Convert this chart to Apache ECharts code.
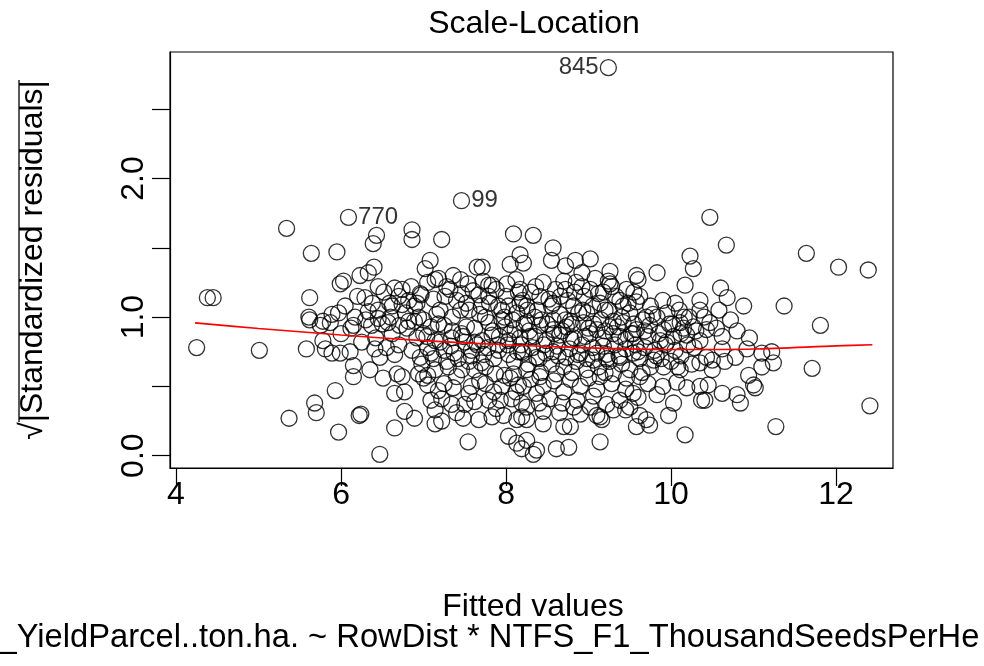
<!DOCTYPE html>
<html>
<head>
<meta charset="utf-8">
<script src="https://cdn.jsdelivr.net/npm/echarts@6/dist/echarts.min.js"></script>
<style>html,body{margin:0;padding:0;background:#fff}#c{width:984px;height:666px}</style>
</head>
<body>
<div id="c"></div>
<script>
// Fitted values (x) and sqrt(|standardized residuals|) (y)
const fittedValues = [
4.25,4.38,4.45,5.01,5.34,5.37,5.58,5.62,5.64,5.61,5.68,5.70,5.78,5.78,5.81,5.89,5.89,5.93,5.97,5.95,5.99,5.75,5.87,5.62,
6.43,6.39,6.86,6.86,7.22,7.08,7.02,7.18,7.36,7.65,7.71,8.09,8.05,8.01,8.17,6.40,6.33,6.23,6.03,6.65,6.29,6.96,7.79,
8.33,8.57,8.55,9.02,8.84,8.72,9.26,9.58,9.60,9.83,10.23,10.27,10.17,10.47,10.35,8.92,8.70,9.24,9.46,10.67,11.64,12.03,12.39,
10.60,10.68,10.88,11.37,11.81,10.47,10.62,10.92,10.78,10.62,10.50,10.65,10.50,11.10,11.22,11.24,11.10,10.94,11.00,11.02,
10.62,10.80,10.84,10.45,10.41,11.71,11.27,12.41,6.47,
6.15,6.37,6.57,6.71,6.89,7.09,7.25,7.46,7.62,7.79,7.99,8.11,7.04,7.14,7.34,7.48,7.71,7.83,8.03,8.17,
5.99,6.11,6.41,6.47,6.65,6.86,6.96,7.09,7.25,7.37,7.58,7.73,7.91,8.03,8.19,
6.15,6.35,6.51,6.68,6.74,6.94,7.00,7.14,7.30,7.46,7.62,7.75,7.87,8.09,6.15,
6.65,6.77,7.05,7.18,7.36,7.58,7.75,7.95,8.05,8.15,
6.22,6.24,6.77,6.89,7.09,7.14,7.22,7.34,7.50,7.62,7.79,7.93,8.07,8.19,
6.65,7.14,7.22,7.48,7.67,7.83,7.97,8.13,8.19,7.54,8.03,8.13,8.19,
8.25,8.41,8.57,8.73,8.94,9.10,9.26,9.42,9.58,9.74,9.91,10.11,10.27,10.43,
8.29,8.49,8.65,8.82,9.02,9.18,9.38,9.54,9.87,10.03,10.19,10.35,
8.21,8.37,8.57,8.73,8.90,9.06,9.22,9.38,9.54,9.79,9.91,10.11,10.35,10.43,
8.25,8.41,8.61,8.78,8.98,9.14,9.30,9.46,9.62,9.83,10.07,10.19,10.35,10.37,
8.21,8.37,8.53,8.70,8.86,9.06,9.22,9.38,9.54,10.03,9.97,
8.25,8.45,8.65,8.82,9.02,9.14,9.30,9.50,9.62,9.58,9.74,9.70,
8.25,8.45,8.70,8.78,9.10,9.16,8.25,8.37,8.61,8.76,9.14,10.17,8.33,
6.17,6.33,6.59,6.74,6.82,6.89,6.97,7.16,7.26,7.32,7.46,7.54,7.52,7.67,7.79,7.91,8.03,8.13,8.17,5.97,6.45,6.94,7.75,7.95,
6.74,7.14,7.83,
8.17,8.25,8.41,8.35,8.57,8.72,8.82,8.92,8.98,9.12,9.26,9.20,9.38,9.50,9.58,9.70,9.83,9.95,10.10,10.16,10.35,8.57,8.78,9.30,8.21,
6.45,6.52,6.60,6.70,6.78,6.85,6.92,7.00,7.05,7.12,7.20,7.28,7.35,7.40,7.45,7.55,7.60,7.68,7.72,7.80,
7.88,7.95,8.00,8.08,8.12,8.20,8.28,8.30,8.38,8.45,8.50,8.52,8.60,8.65,8.68,8.75,8.80,8.85,8.88,8.95,9.00,9.05,9.08,9.15,9.18,9.25,9.30,9.33,9.40,9.45,9.48,9.55,
8.02,8.10,8.18,8.27,8.32,8.40,8.46,8.55,8.62,8.70,8.77,8.85,8.92,8.98,9.05,9.12,9.18,9.25,9.32,9.40,9.45,9.50,9.57,9.62,9.68,9.75,9.80,9.88,9.93,10.00,10.05,10.12,10.20,10.25,
6.92,6.98,7.05,7.12,7.20,7.28,7.33,7.42,7.50,7.55,7.65,7.70,7.78,7.85,7.92,
7.05,7.25,7.40,7.55,7.68,7.85,7.98,8.12,8.30,8.45,8.58,8.68,8.90,9.00,9.10,9.28,9.45,9.60,9.72,9.90,8.40,8.90,9.45,7.88,7.40,
6.05,6.12,6.20,6.25,6.30,6.38,6.42,6.50,6.55,6.62,6.70,6.80,6.45,6.00,
9.62,9.68,9.75,9.85,9.90,9.98,10.05,10.12,10.22,10.30,10.40,10.55,10.58,10.72,10.80,10.95,
7.52,7.62,7.70,7.84,7.90,7.98,8.05,8.14,8.15,8.22,8.26,8.35,8.36,8.43,8.48,8.55,8.58,8.63,8.66,8.72,8.79,8.83,8.87,8.93,8.96,
9.02,9.06,9.10,9.14,9.20,9.22,9.28,9.35,9.37,9.42,9.52,9.55,9.60,9.66,9.72,9.78,9.82,9.95,10.02,10.08,10.15,10.28,
7.35,7.18,7.00,6.82,6.62,7.45,7.58,8.42,8.80,9.20,9.65
];
const sqrtStdResid = [
0.78,1.14,1.14,0.76,1.64,0.27,0.77,1.14,1.46,1.00,0.38,0.31,0.97,0.83,0.77,1.02,0.74,0.47,0.17,1.47,1.24,0.94,0.96,0.98,
1.59,1.53,1.63,1.56,1.56,1.41,1.35,1.28,1.30,1.36,1.36,1.60,1.38,1.24,1.45,1.36,1.32,1.30,1.26,1.21,1.14,1.17,1.23,
1.59,1.50,1.41,1.42,1.41,1.37,1.33,1.30,1.27,1.32,1.44,1.35,1.23,1.72,1.12,1.32,1.26,1.26,1.20,1.52,1.46,1.36,1.34,
1.21,1.14,1.08,1.08,0.94,0.96,0.86,0.77,0.71,0.77,0.69,0.68,0.62,0.74,0.75,0.67,0.64,0.58,0.51,0.49,
0.45,0.44,0.38,0.51,0.40,0.63,0.21,0.36,0.01,
0.94,0.94,0.96,0.94,0.97,0.93,0.94,0.88,0.92,0.96,0.93,0.91,0.86,0.83,0.85,0.86,0.83,0.87,0.83,0.85,
0.74,0.75,0.77,0.71,0.73,0.76,0.71,0.74,0.76,0.74,0.76,0.73,0.76,0.73,0.75,
0.65,0.62,0.56,0.59,0.57,0.59,0.56,0.62,0.64,0.62,0.62,0.64,0.59,0.59,0.57,
0.45,0.46,0.51,0.47,0.49,0.50,0.52,0.50,0.56,0.51,
0.29,0.30,0.32,0.27,0.40,0.33,0.41,0.37,0.37,0.39,0.40,0.40,0.41,0.38,
0.20,0.23,0.25,0.27,0.26,0.28,0.29,0.26,0.28,0.10,0.14,0.09,0.05,
0.96,0.94,0.91,0.93,0.96,0.91,0.93,0.96,0.91,0.94,0.91,0.96,0.93,0.91,
0.86,0.83,0.87,0.85,0.88,0.85,0.86,0.88,0.83,0.86,0.87,0.83,
0.74,0.71,0.75,0.71,0.74,0.69,0.73,0.71,0.74,0.69,0.64,0.62,0.67,0.71,
0.62,0.57,0.59,0.55,0.62,0.57,0.59,0.56,0.57,0.44,0.53,0.49,0.50,0.40,
0.50,0.45,0.41,0.46,0.40,0.43,0.37,0.40,0.45,0.38,0.29,
0.35,0.32,0.31,0.35,0.35,0.28,0.33,0.35,0.29,0.21,0.22,0.26,
0.26,0.23,0.21,0.21,0.29,0.26,0.11,0.04,0.05,0.06,0.10,0.15,0.01,
1.00,1.04,1.10,1.09,1.12,1.08,1.16,1.02,1.15,1.20,1.17,1.24,1.10,1.16,1.15,1.08,1.08,1.03,1.10,1.03,0.99,1.00,1.00,0.98,
1.20,1.27,1.23,
1.20,1.08,1.15,1.00,1.10,1.20,1.08,1.22,1.03,1.17,1.24,1.05,1.12,1.03,1.11,1.00,1.00,1.03,1.05,1.00,1.05,0.98,0.97,0.97,1.39,
1.05,1.18,1.00,1.15,1.03,1.22,1.10,0.98,1.25,1.13,1.05,1.22,1.00,1.12,1.27,1.05,1.19,1.02,1.26,1.10,
1.20,1.05,1.15,0.98,1.27,1.12,0.90,1.18,1.05,1.25,0.95,1.13,1.20,1.02,0.90,1.12,0.95,1.25,1.03,1.15,0.92,1.08,1.28,0.98,1.18,1.05,0.88,1.15,1.00,0.84,1.10,0.95,
0.80,0.68,0.80,0.66,0.78,0.70,0.80,0.66,0.79,0.64,0.77,0.68,0.80,0.70,0.78,0.64,0.79,0.68,0.80,0.66,0.77,0.62,0.80,0.70,0.78,0.64,0.76,0.70,0.80,0.68,0.76,0.72,0.80,0.66,
0.85,0.66,0.78,0.70,0.82,0.68,0.79,0.70,0.82,0.68,0.80,0.67,0.78,0.70,0.86,
0.58,0.52,0.57,0.45,0.54,0.46,0.58,0.46,0.55,0.50,0.54,0.38,0.50,0.56,0.48,0.52,0.48,0.42,0.52,0.50,0.38,0.30,0.33,0.34,0.31,
1.08,0.92,1.15,0.82,0.98,1.10,0.85,0.95,0.78,0.88,0.80,0.92,1.22,0.88,
1.15,0.90,1.08,0.88,1.12,0.95,1.10,0.88,1.00,0.90,1.00,0.92,1.05,0.98,0.90,0.85,
0.93,0.82,1.08,0.90,0.80,1.00,0.88,0.75,1.18,0.95,1.05,0.86,1.22,0.98,0.74,1.08,0.88,0.72,1.15,0.98,0.84,1.18,0.73,1.05,0.86,
1.20,0.95,0.74,1.10,0.90,0.70,1.22,0.93,0.72,1.08,0.88,1.18,0.75,0.98,0.86,1.02,0.72,0.82,0.95,0.64,0.92,0.78,
0.90,0.95,0.88,0.97,1.08,1.05,0.72,0.60,0.60,0.60,0.60
];
// Identified observations
const idLabels = ['845', '99', '770'];
const idX = [9.24, 7.46, 6.09];
const idY = [2.80, 1.84, 1.72];
// Red smoother line
const smoothX = [4.23, 5, 6, 7, 8, 9, 10, 11, 12, 12.44];
const smoothY = [0.958, 0.918, 0.871, 0.83, 0.80, 0.778, 0.766, 0.77, 0.792, 0.80];
// Tick values
const xTicks = [4, 6, 8, 10, 12];
const yTicks = [0, 0.5, 1, 1.5, 2, 2.5];
const yTickLabels = [0, 1, 2];

const FONT = "'Liberation Sans', Arial, Helvetica, sans-serif";
const pts = fittedValues.map((x, i) => [x, sqrtStdResid[i]]);
const idPts = idX.map((x, i) => ({
  value: [x, idY[i]],
  label: { show: true, formatter: idLabels[i], position: i === 0 ? 'left' : 'right', distance: 1 }
}));

const chart = echarts.init(document.getElementById('c'), null, { renderer: 'canvas' });
const circleStyle = { color: 'rgba(0,0,0,0)', borderColor: '#000', borderWidth: 1.3 };
chart.setOption({
  animation: false,
  backgroundColor: '#fff',
  grid: { left: 170, right: 91, top: 52, bottom: 198, show: true, borderColor: '#000', borderWidth: 1.2, backgroundColor: 'transparent' },
  xAxis: {
    type: 'value', min: 3.927, max: 12.69,
    splitLine: { show: false },
    axisLine: { show: true, onZero: false, lineStyle: { color: '#000', width: 1.2 } },
    axisTick: { show: true, length: 18, customValues: xTicks, lineStyle: { color: '#000', width: 1.2 } },
    axisLabel: { customValues: xTicks, color: '#000', fontSize: 32, fontFamily: FONT, margin: 11, formatter: v => String(v) }
  },
  yAxis: {
    type: 'value', min: -0.089, max: 2.913,
    splitLine: { show: false },
    axisLine: { show: true, onZero: false, lineStyle: { color: '#000', width: 1.2 } },
    axisTick: { show: true, length: 18, customValues: yTicks, lineStyle: { color: '#000', width: 1.2 } },
    axisLabel: { customValues: yTickLabels, rotate: 90, color: '#000', fontSize: 32, fontFamily: FONT, margin: 20, formatter: v => v.toFixed(1) }
  },
  graphic: [
    { type: 'text', style: { text: 'Scale-Location', font: '32px ' + FONT, fill: '#000', x: 534, y: 24, textAlign: 'center', textVerticalAlign: 'middle' } },
    { type: 'text', style: { text: 'Fitted values', font: '32px ' + FONT, fill: '#000', x: 533, y: 607, textAlign: 'center', textVerticalAlign: 'middle' } },
    { type: 'text', style: { text: '_YieldParcel..ton.ha. ~ RowDist * NTFS_F1_ThousandSeedsPerHe', font: '32.7px ' + FONT, fill: '#000', x: 489, y: 638, textAlign: 'center', textVerticalAlign: 'middle' } },
    { type: 'text', x: 33, y: 260, rotation: Math.PI / 2, style: { text: '√|Standardized residuals|', font: '32px ' + FONT, fill: '#000', x: 0, y: 0, textAlign: 'center', textVerticalAlign: 'middle' } },
    { type: 'line', shape: { x1: 19, y1: 80, x2: 19, y2: 422 }, style: { stroke: '#000', lineWidth: 1.3 } }
  ],
  series: [
    { type: 'scatter', data: pts, symbol: 'circle', symbolSize: 16, itemStyle: circleStyle, silent: true, z: 2 },
    { type: 'scatter', data: idPts, symbol: 'circle', symbolSize: 16, itemStyle: circleStyle, silent: true, z: 2,
      label: { color: '#000', fontSize: 24, fontFamily: FONT } },
    { type: 'line', data: smoothX.map((x, i) => [x, smoothY[i]]), smooth: 0.3, showSymbol: false, symbol: 'none',
      lineStyle: { color: '#ff0000', width: 1.6 }, silent: true, z: 3 }
  ]
});
</script>
</body>
</html>
